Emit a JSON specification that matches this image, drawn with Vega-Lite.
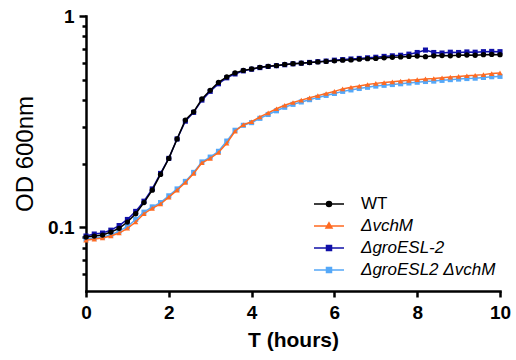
{
  "$schema": "https://vega.github.io/schema/vega-lite/v6.json",
  "width": 414,
  "height": 275,
  "autosize": {"type": "none"},
  "padding": {"left": 86, "top": 16, "right": 16, "bottom": 69},
  "config": {
    "view": {"stroke": null},
    "font": "Liberation Sans",
    "axis": {"labelFont": "Liberation Sans", "titleFont": "Liberation Sans", "domainColor": "black", "tickColor": "black", "labelColor": "black", "titleColor": "black", "domainWidth": 2.5, "tickWidth": 2.5, "grid": false, "domainCap": "square"}
  },
  "data": {"values": [
    {"t": 0.0, "wt": 0.090, "vch": 0.087, "gro": 0.091, "dbl": 0.088},
    {"t": 0.2, "wt": 0.091, "vch": 0.088, "gro": 0.093, "dbl": 0.089},
    {"t": 0.4, "wt": 0.092, "vch": 0.089, "gro": 0.094, "dbl": 0.090},
    {"t": 0.6, "wt": 0.095, "vch": 0.091, "gro": 0.097, "dbl": 0.092},
    {"t": 0.8, "wt": 0.099, "vch": 0.094, "gro": 0.102, "dbl": 0.096},
    {"t": 1.0, "wt": 0.106, "vch": 0.099, "gro": 0.109, "dbl": 0.101},
    {"t": 1.2, "wt": 0.116, "vch": 0.106, "gro": 0.119, "dbl": 0.109},
    {"t": 1.4, "wt": 0.131, "vch": 0.116, "gro": 0.133, "dbl": 0.118},
    {"t": 1.6, "wt": 0.150, "vch": 0.123, "gro": 0.152, "dbl": 0.125},
    {"t": 1.8, "wt": 0.178, "vch": 0.129, "gro": 0.180, "dbl": 0.131},
    {"t": 2.0, "wt": 0.212, "vch": 0.139, "gro": 0.212, "dbl": 0.141},
    {"t": 2.2, "wt": 0.262, "vch": 0.150, "gro": 0.262, "dbl": 0.152},
    {"t": 2.4, "wt": 0.322, "vch": 0.163, "gro": 0.318, "dbl": 0.165},
    {"t": 2.6, "wt": 0.352, "vch": 0.180, "gro": 0.350, "dbl": 0.182},
    {"t": 2.8, "wt": 0.405, "vch": 0.202, "gro": 0.400, "dbl": 0.204},
    {"t": 3.0, "wt": 0.445, "vch": 0.212, "gro": 0.440, "dbl": 0.215},
    {"t": 3.2, "wt": 0.485, "vch": 0.226, "gro": 0.478, "dbl": 0.229},
    {"t": 3.4, "wt": 0.515, "vch": 0.250, "gro": 0.510, "dbl": 0.256},
    {"t": 3.6, "wt": 0.538, "vch": 0.285, "gro": 0.532, "dbl": 0.288},
    {"t": 3.8, "wt": 0.553, "vch": 0.306, "gro": 0.550, "dbl": 0.304},
    {"t": 4.0, "wt": 0.562, "vch": 0.316, "gro": 0.560, "dbl": 0.313},
    {"t": 4.2, "wt": 0.572, "vch": 0.333, "gro": 0.570, "dbl": 0.328},
    {"t": 4.4, "wt": 0.578, "vch": 0.348, "gro": 0.577, "dbl": 0.342},
    {"t": 4.6, "wt": 0.583, "vch": 0.364, "gro": 0.582, "dbl": 0.356},
    {"t": 4.8, "wt": 0.590, "vch": 0.378, "gro": 0.588, "dbl": 0.370},
    {"t": 5.0, "wt": 0.595, "vch": 0.390, "gro": 0.594, "dbl": 0.382},
    {"t": 5.2, "wt": 0.598, "vch": 0.400, "gro": 0.598, "dbl": 0.392},
    {"t": 5.4, "wt": 0.602, "vch": 0.410, "gro": 0.603, "dbl": 0.402},
    {"t": 5.6, "wt": 0.606, "vch": 0.420, "gro": 0.608, "dbl": 0.412},
    {"t": 5.8, "wt": 0.610, "vch": 0.430, "gro": 0.612, "dbl": 0.421},
    {"t": 6.0, "wt": 0.614, "vch": 0.440, "gro": 0.618, "dbl": 0.430},
    {"t": 6.2, "wt": 0.618, "vch": 0.452, "gro": 0.622, "dbl": 0.440},
    {"t": 6.4, "wt": 0.620, "vch": 0.460, "gro": 0.626, "dbl": 0.447},
    {"t": 6.6, "wt": 0.625, "vch": 0.466, "gro": 0.630, "dbl": 0.454},
    {"t": 6.8, "wt": 0.628, "vch": 0.474, "gro": 0.634, "dbl": 0.460},
    {"t": 7.0, "wt": 0.630, "vch": 0.480, "gro": 0.638, "dbl": 0.466},
    {"t": 7.2, "wt": 0.634, "vch": 0.484, "gro": 0.644, "dbl": 0.470},
    {"t": 7.4, "wt": 0.638, "vch": 0.488, "gro": 0.648, "dbl": 0.474},
    {"t": 7.6, "wt": 0.640, "vch": 0.492, "gro": 0.652, "dbl": 0.478},
    {"t": 7.8, "wt": 0.644, "vch": 0.496, "gro": 0.660, "dbl": 0.482},
    {"t": 8.0, "wt": 0.646, "vch": 0.500, "gro": 0.672, "dbl": 0.486},
    {"t": 8.2, "wt": 0.642, "vch": 0.504, "gro": 0.690, "dbl": 0.490},
    {"t": 8.4, "wt": 0.648, "vch": 0.506, "gro": 0.672, "dbl": 0.492},
    {"t": 8.6, "wt": 0.650, "vch": 0.510, "gro": 0.668, "dbl": 0.496},
    {"t": 8.8, "wt": 0.648, "vch": 0.514, "gro": 0.674, "dbl": 0.500},
    {"t": 9.0, "wt": 0.652, "vch": 0.518, "gro": 0.672, "dbl": 0.503},
    {"t": 9.2, "wt": 0.654, "vch": 0.522, "gro": 0.676, "dbl": 0.506},
    {"t": 9.4, "wt": 0.652, "vch": 0.524, "gro": 0.674, "dbl": 0.508},
    {"t": 9.6, "wt": 0.656, "vch": 0.528, "gro": 0.678, "dbl": 0.512},
    {"t": 9.8, "wt": 0.658, "vch": 0.534, "gro": 0.680, "dbl": 0.516},
    {"t": 10.0, "wt": 0.656, "vch": 0.538, "gro": 0.678, "dbl": 0.518}
  ]},
  "transform": [{"fold": ["wt", "vch", "gro", "dbl"], "as": ["k", "od"]}],
  "encoding": {
    "x": {
      "field": "t", "type": "quantitative",
      "scale": {"domain": [0, 10], "nice": false},
      "axis": {"values": [0, 2, 4, 6, 8, 10], "labelFontSize": 19, "labelFontWeight": "bold", "tickSize": 6, "labelPadding": 6, "labelFlush": false, "title": "T (hours)", "titleFontSize": 21, "titleFontWeight": "bold", "titlePadding": 7}
    },
    "y": {
      "field": "od", "type": "quantitative",
      "scale": {"type": "log", "domain": [0.05, 1], "nice": false},
      "axis": {
        "values": [0.06, 0.07, 0.08, 0.09, 0.1, 0.2, 0.3, 0.4, 0.5, 0.6, 0.7, 0.8, 0.9, 1],
        "labelExpr": "datum.value == 1 ? '1' : datum.value == 0.1 ? '0.1' : ''",
        "labelOverlap": false, "labelFlush": false,
        "tickSize": {"condition": {"test": "datum.value == 1 || datum.value == 0.1", "value": 7}, "value": 4},
        "labelFontSize": 19, "labelFontWeight": "bold", "labelPadding": 5,
        "title": "OD 600nm", "titleFontSize": 24, "titleFontWeight": "normal", "titlePadding": 10
      }
    },
    "color": {
      "field": "k", "type": "nominal",
      "scale": {"domain": ["wt", "vch", "gro", "dbl"], "range": ["#000000", "#ff6a21", "#1010a8", "#55a8f8"]},
      "legend": {
        "orient": "none", "legendX": 232, "legendY": 177, "title": null, "padding": 0,
        "labelExpr": "datum.value === 'wt' ? 'WT' : datum.value === 'vch' ? 'ΔvchM' : datum.value === 'gro' ? 'ΔgroESL-2' : 'ΔgroESL2 ΔvchM'",
        "labelFont": "Liberation Sans", "labelFontSize": 17, "labelColor": "black", "labelOffset": 21,
        "symbolSize": 400, "rowPadding": 3,
        "encode": {
          "symbols": {"update": {
            "shape": {"signal": "datum.value === 'wt' ? 'M-1.5,0H1.5M-0.25,0A0.25,0.25 0 1,0 0.25,0A0.25,0.25 0 1,0 -0.25,0Z' : datum.value === 'vch' ? 'M-1.5,0H1.5M0,-0.32L0.3,0.2L-0.3,0.2Z' : 'M-1.5,0H1.5M-0.25,-0.25H0.25V0.25H-0.25Z'"},
            "fill": {"scale": "color", "field": "value"},
            "stroke": {"scale": "color", "field": "value"},
            "strokeWidth": {"value": 1.5},
            "opacity": {"value": 1}
          }},
          "labels": {"update": {"fontStyle": {"signal": "datum.value === 'wt' ? 'normal' : 'italic'"}}}
        }
      }
    }
  },
  "layer": [
    {"transform": [{"filter": "datum.k === 'dbl'"}], "mark": {"type": "line", "strokeWidth": 1.5, "point": {"filled": true, "shape": "square", "size": 26, "opacity": 1}}},
    {"transform": [{"filter": "datum.k === 'vch'"}], "mark": {"type": "line", "strokeWidth": 1.5, "point": {"filled": true, "shape": "triangle-up", "size": 28, "opacity": 1}}},
    {"transform": [{"filter": "datum.k === 'gro'"}], "mark": {"type": "line", "strokeWidth": 1.5, "point": {"filled": true, "shape": "square", "size": 26, "opacity": 1}}},
    {"transform": [{"filter": "datum.k === 'wt'"}], "mark": {"type": "line", "strokeWidth": 1.5, "point": {"filled": true, "shape": "circle", "size": 28, "opacity": 1}}}
  ]
}
